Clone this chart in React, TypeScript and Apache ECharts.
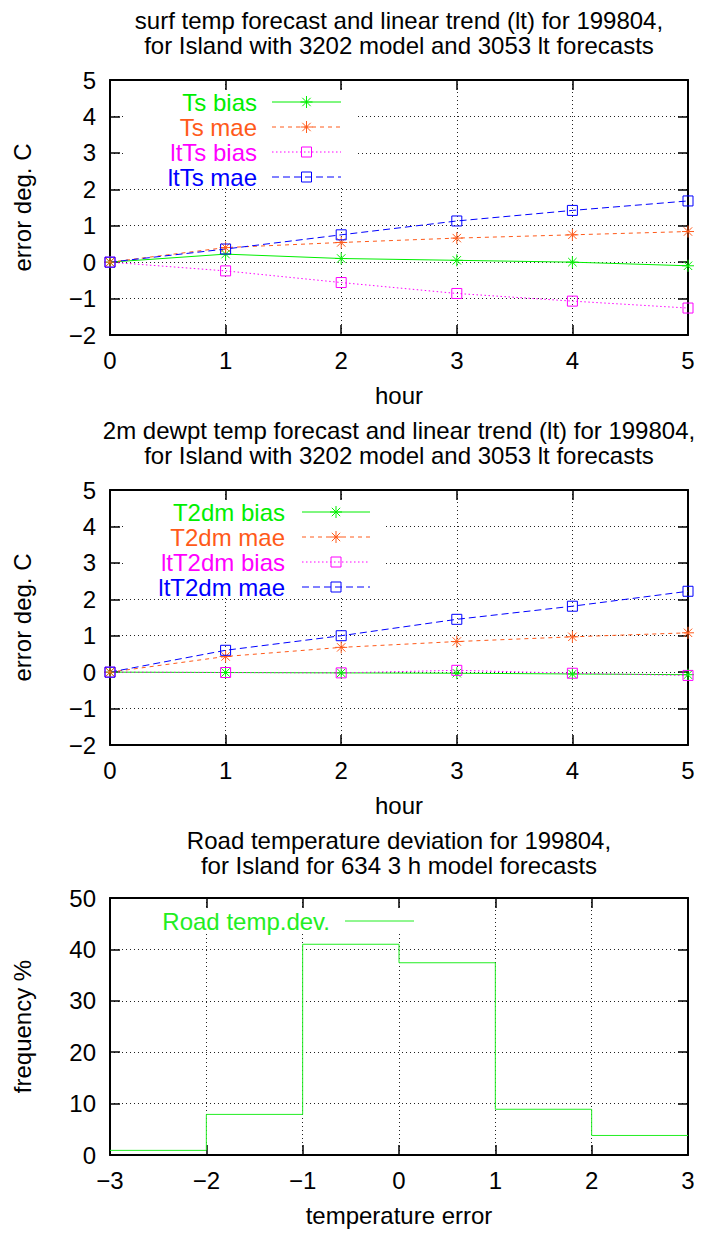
import React, { useEffect, useRef } from "react";
import * as echarts from "echarts";

const FONT = '"Liberation Sans", Arial, Helvetica, sans-serif';
const FS = 24;

const hours = [0, 1, 2, 3, 4, 5];
const tsBias = [0, 0.22, 0.1, 0.05, 0.0, -0.1];
const tsMae = [0, 0.4, 0.54, 0.66, 0.75, 0.84];
const ltTsBias = [0, -0.24, -0.56, -0.86, -1.07, -1.26];
const ltTsMae = [0, 0.36, 0.75, 1.13, 1.42, 1.68];

const t2dmBias = [0, -0.01, -0.02, -0.03, -0.05, -0.07];
const t2dmMae = [0, 0.43, 0.68, 0.84, 0.97, 1.08];
const ltT2dmBias = [0, -0.01, -0.02, 0.05, -0.03, -0.09];
const ltT2dmMae = [0, 0.6, 1.0, 1.45, 1.81, 2.22];

const binLeft = [-3, -2, -1, 0, 1, 2];
const binRightEnd = 3;
const roadFreq = [0.9, 7.9, 41.0, 37.4, 8.9, 3.8];

const titles1 = [
  "surf temp forecast and linear trend (lt) for 199804,",
  "for Island with 3202 model and 3053 lt forecasts",
];
const titles2 = [
  "2m dewpt temp forecast and linear trend (lt) for 199804,",
  "for Island with 3202 model and 3053 lt forecasts",
];
const titles3 = [
  "Road temperature deviation for 199804,",
  "for Island for 634 3 h model forecasts",
];
const legend1 = ["Ts bias", "Ts mae", "ltTs bias", "ltTs mae"];
const legend2 = ["T2dm bias", "T2dm mae", "ltT2dm bias", "ltT2dm mae"];
const legend3 = ["Road temp.dev."];

const GREEN = "#00ee00";
const ORANGE = "#ff5a1a";
const MAGENTA = "#ff00ff";
const BLUE = "#0000ff";
const HIST_GREEN = "#22ee22";

const STAR = "path://M6,0L6,12M0,6L12,6M1.8,1.8L10.2,10.2M10.2,1.8L1.8,10.2";
const SQUARE = "path://M0,0L10,0L10,10L0,10Z";

const styles = [
  { color: GREEN, dash: "solid" as any, symbol: STAR, size: 12 },
  { color: ORANGE, dash: [4, 4], symbol: STAR, size: 12 },
  { color: MAGENTA, dash: [1.5, 2.5], symbol: SQUARE, size: 10 },
  { color: BLUE, dash: [7, 4], symbol: SQUARE, size: 10 },
];

const minusFmt = (v: number) => (v < 0 ? "\u2212" + Math.abs(v) : String(v));

function starEls(cx: number, cy: number, color: string) {
  const r = 6;
  const d = 4.2;
  const segs = [
    [cx - r, cy, cx + r, cy],
    [cx, cy - r, cx, cy + r],
    [cx - d, cy - d, cx + d, cy + d],
    [cx + d, cy - d, cx - d, cy + d],
  ];
  return segs.map((s) => ({
    type: "line",
    z: 10,
    shape: { x1: s[0], y1: s[1], x2: s[2], y2: s[3] },
    style: { stroke: color, lineWidth: 1 },
  }));
}

function legendEls(
  names: string[],
  textRight: number,
  lx1: number,
  lx2: number,
  y0: number,
  dy: number,
  sty: any[],
  noMarker = false
) {
  const out: any[] = [];
  names.forEach((n, i) => {
    const y = y0 + i * dy;
    const s = sty[i];
    out.push({
      type: "text",
      z: 10,
      x: textRight,
      y: y,
      style: {
        text: n,
        align: "right",
        verticalAlign: "middle",
        fill: s.color,
        font: `${FS}px ${FONT}`,
      },
    });
    out.push({
      type: "line",
      z: 10,
      shape: { x1: lx1, y1: y, x2: lx2, y2: y },
      style: {
        stroke: s.color,
        lineWidth: 1,
        lineDash: s.dash === "solid" ? null : s.dash,
      },
    });
    if (!noMarker) {
      const cx = (lx1 + lx2) / 2;
      if (s.symbol === STAR) out.push(...starEls(cx, y, s.color));
      else
        out.push({
          type: "rect",
          z: 10,
          shape: { x: cx - 5, y: y - 5, width: 10, height: 10 },
          style: { fill: "none", stroke: s.color, lineWidth: 1 },
        });
    }
  });
  return out;
}

function titleEls(lines: string[], y1: number) {
  return lines.map((t, i) => ({
    type: "text",
    z: 10,
    x: 399,
    y: y1 + i * 25,
    style: {
      text: t,
      align: "center",
      verticalAlign: "middle",
      fill: "#000",
      font: `${FS}px ${FONT}`,
    },
  }));
}

function maskRect(x1: number, y1: number, x2: number, y2: number) {
  return {
    type: "rect",
    z: 5,
    shape: { x: x1, y: y1, width: x2 - x1, height: y2 - y1 },
    style: { fill: "#fff" },
  };
}

const axisLine = { show: true, lineStyle: { color: "#000", width: 2 } };
const axisTick = { show: true, inside: true, length: 10, lineStyle: { color: "#000", width: 1.5 } };
const splitLine = { show: true, lineStyle: { color: "#222", width: 1, type: [1, 3] as any } };
const labelStyle = { fontFamily: FONT, fontSize: FS, color: "#000" };

function xAxes(gi: number, min: number, max: number, name: string) {
  return [
    {
      type: "value",
      gridIndex: gi,
      min,
      max,
      interval: 1,
      position: "bottom",
      axisLine: { ...axisLine, onZero: false },
      axisTick,
      splitLine,
      axisLabel: { ...labelStyle, margin: 13, formatter: minusFmt },
      name,
      nameLocation: "middle",
      nameGap: 48,
      nameTextStyle: { ...labelStyle },
    },
    {
      type: "value",
      gridIndex: gi,
      min,
      max,
      interval: 1,
      position: "top",
      axisLine: { ...axisLine, onZero: false },
      axisTick,
      splitLine: { show: false },
      axisLabel: { show: false },
    },
  ];
}

function yAxes(gi: number, min: number, max: number, interval: number, name: string) {
  return [
    {
      type: "value",
      gridIndex: gi,
      min,
      max,
      interval,
      position: "left",
      axisLine: { ...axisLine, onZero: false },
      axisTick,
      splitLine,
      axisLabel: { ...labelStyle, margin: 14, formatter: minusFmt },
      name,
      nameLocation: "middle",
      nameGap: 76,
      nameTextStyle: { ...labelStyle },
    },
    {
      type: "value",
      gridIndex: gi,
      min,
      max,
      interval,
      position: "right",
      axisLine: { ...axisLine, onZero: false },
      axisTick,
      splitLine: { show: false },
      axisLabel: { show: false },
    },
  ];
}

function lineSeries(name: string, values: number[], s: any, axisIdx: number) {
  return {
    type: "line",
    name,
    xAxisIndex: axisIdx,
    yAxisIndex: axisIdx,
    data: hours.map((h, i) => [h, values[i]]),
    symbol: s.symbol,
    symbolSize: s.size,
    showAllSymbol: true,
    lineStyle: { color: s.color, width: 1, type: s.dash },
    itemStyle: { color: "transparent", borderColor: s.color, borderWidth: 1 },
    z: 3,
  };
}

export default function App() {
  const ref = useRef<HTMLDivElement>(null);
  useEffect(() => {
    document.body.style.margin = "0";
    const chart = echarts.init(ref.current!, null, { renderer: "svg" });
    const histData = binLeft
      .map((x, i) => [x, roadFreq[i]])
      .concat([[binRightEnd, roadFreq[roadFreq.length - 1]]]);
    const option: any = {
      animation: false,
      backgroundColor: "#fff",
      grid: [
        { left: 110, top: 80, width: 578, height: 255 },
        { left: 110, top: 490, width: 578, height: 255 },
        { left: 110, top: 898, width: 578, height: 257 },
      ],
      xAxis: [
        ...xAxes(0, 0, 5, "hour"),
        ...xAxes(1, 0, 5, "hour"),
        ...xAxes(2, -3, 3, "temperature error"),
      ],
      yAxis: [
        ...yAxes(0, -2, 5, 1, "error deg. C"),
        ...yAxes(1, -2, 5, 1, "error deg. C"),
        ...yAxes(2, 0, 50, 10, "frequency %"),
      ],
      series: [
        lineSeries(legend1[0], tsBias, styles[0], 0),
        lineSeries(legend1[1], tsMae, styles[1], 0),
        lineSeries(legend1[2], ltTsBias, styles[2], 0),
        lineSeries(legend1[3], ltTsMae, styles[3], 0),
        lineSeries(legend2[0], t2dmBias, styles[0], 2),
        lineSeries(legend2[1], t2dmMae, styles[1], 2),
        lineSeries(legend2[2], ltT2dmBias, styles[2], 2),
        lineSeries(legend2[3], ltT2dmMae, styles[3], 2),
        {
          type: "line",
          name: legend3[0],
          xAxisIndex: 4,
          yAxisIndex: 4,
          step: "end",
          data: histData,
          symbol: "none",
          lineStyle: { color: HIST_GREEN, width: 1 },
          z: 3,
        },
      ],
      graphic: [
        ...titleEls(titles1, 20),
        ...titleEls(titles2, 430),
        ...titleEls(titles3, 840),
        maskRect(124, 92, 355, 187),
        maskRect(124, 502, 383, 597),
        maskRect(124, 908, 440, 932),
        ...legendEls(legend1, 257, 272, 341, 102, 25, styles),
        ...legendEls(legend2, 285, 302, 370, 512, 25, styles),
        ...legendEls(legend3, 330, 345, 414, 921, 25, [{ color: HIST_GREEN, dash: "solid" }], true),
      ],
    };
    chart.setOption(option);
    return () => chart.dispose();
  }, []);
  return <div ref={ref} style={{ width: 703, height: 1233 }} />;
}
